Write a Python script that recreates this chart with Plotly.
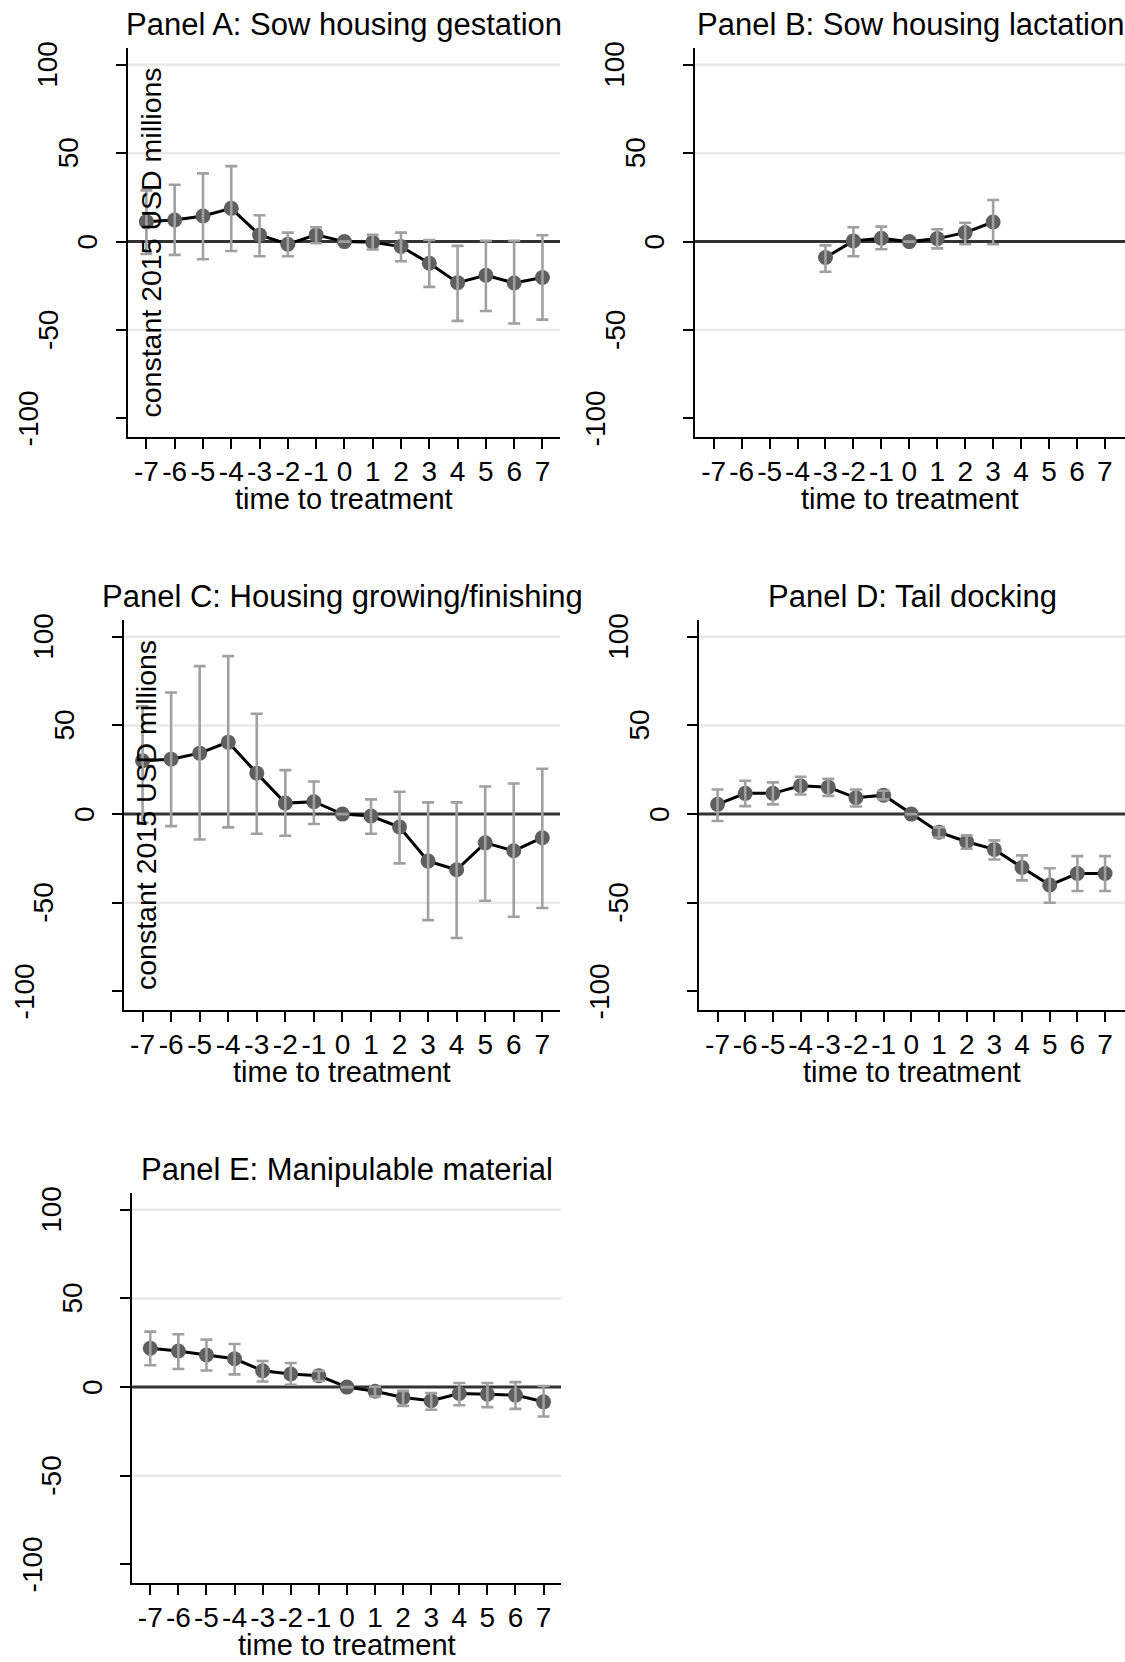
import plotly.graph_objects as go

# ---------------- data ----------------
periods = [-7, -6, -5, -4, -3, -2, -1, 0, 1, 2, 3, 4, 5, 6, 7]
periods_b = [-3, -2, -1, 0, 1, 2, 3]

titles = [
    "Panel A: Sow housing gestation",
    "Panel B: Sow housing lactation",
    "Panel C: Housing growing/finishing",
    "Panel D: Tail docking",
    "Panel E: Manipulable material",
]

coef_a = [11.3, 12.2, 14.5, 18.8, 3.8, -1.5, 3.8, 0, -0.4, -2.8, -12.2, -23.2, -19.0, -23.4, -20.3]
lo_a = [-7.0, -7.5, -10.0, -5.3, -8.3, -8.3, -0.9, 0, -4.5, -11.1, -25.6, -44.8, -39.2, -46.3, -44.1]
hi_a = [29.0, 32.2, 38.6, 42.7, 14.9, 5.1, 8.1, 0, 3.8, 5.1, 0.9, -2.4, 0.4, 0.4, 3.6]

coef_b = [-9.0, 0.4, 1.9, 0, 1.7, 5.1, 11.1]
lo_b = [-17.0, -8.3, -4.3, 0, -3.8, -1.5, -1.5]
hi_b = [-2.1, 8.1, 8.5, 0, 7.0, 10.7, 23.5]

coef_c = [30.1, 31.0, 34.4, 40.6, 23.1, 6.2, 7.0, 0, -1.1, -7.3, -26.5, -31.4, -16.2, -20.7, -13.3]
lo_c = [-4.9, -6.8, -14.3, -7.5, -11.1, -12.2, -5.6, 0, -11.1, -27.8, -59.8, -69.9, -48.9, -57.9, -53.0]
hi_c = [60.8, 68.6, 83.5, 89.1, 56.6, 24.8, 18.4, 0, 8.3, 12.6, 6.6, 6.6, 15.6, 17.3, 25.6]

coef_d = [5.5, 11.7, 11.7, 16.0, 15.2, 9.2, 10.7, 0, -10.2, -15.6, -19.9, -30.1, -40.0, -33.5, -33.5]
lo_d = [-3.9, 4.5, 5.5, 11.1, 10.3, 4.3, 8.3, 0, -13.2, -19.5, -25.6, -37.4, -50.0, -43.4, -43.4]
hi_d = [13.9, 18.8, 17.9, 21.1, 19.9, 13.9, 13.2, 0, -7.5, -12.0, -14.8, -23.3, -30.5, -23.7, -23.7]

coef_e = [21.9, 20.4, 18.1, 16.0, 9.2, 7.4, 6.4, 0, -2.3, -5.8, -7.7, -3.6, -4.0, -4.5, -8.3]
lo_e = [12.3, 10.2, 9.4, 7.2, 3.2, 1.3, 3.6, 0, -5.3, -10.6, -12.8, -10.2, -11.3, -12.3, -16.6]
hi_e = [31.3, 29.8, 26.8, 24.3, 14.7, 13.6, 9.1, 0, 0.2, -2.1, -3.4, 2.3, 2.3, 2.8, 0.6]

x_ticks = [-7, -6, -5, -4, -3, -2, -1, 0, 1, 2, 3, 4, 5, 6, 7]
y_ticks = [-100, -50, 0, 50, 100]
grid_vals = [100, 50, -50]

x_title = "time to treatment"
y_title = "constant 2015 USD millions"

panels = [
    (periods, coef_a, lo_a, hi_a),
    (periods_b, coef_b, lo_b, hi_b),
    (periods, coef_c, lo_c, hi_c),
    (periods, coef_d, lo_d, hi_d),
    (periods, coef_e, lo_e, hi_e),
]

# ---------------- layout geometry (pixels) ----------------
W, H = 1125, 1662
boxes = [  # left, right, top, bottom
    (128, 560, 48, 437),
    (695, 1125, 48, 437),
    (124, 560, 620, 1010),
    (699, 1125, 620, 1010),
    (132, 561, 1193, 1583),
]
show_ytitle = [True, False, True, False, False]

FONT = "Liberation Sans, Arial, sans-serif"
MARKER = "#5f5f5f"
ERR = "#a0a0a0"

fig = go.Figure()
layout = dict(
    width=W, height=H,
    margin=dict(l=0, r=0, t=0, b=0),
    paper_bgcolor="white", plot_bgcolor="white",
    showlegend=False,
    font=dict(family=FONT, color="black", size=28),
)
shapes = []
annotations = []

for i, ((xs, c, lo, hi), (l, r, t, b)) in enumerate(zip(panels, boxes)):
    n = i + 1
    xa = "x" if n == 1 else f"x{n}"
    ya = "y" if n == 1 else f"y{n}"
    xkey = "xaxis" if n == 1 else f"xaxis{n}"
    ykey = "yaxis" if n == 1 else f"yaxis{n}"
    xr = [-7.65, 7.62] if r < W else [-7.67, 7.72]

    fig.add_trace(go.Scatter(
        x=xs, y=c, mode="lines+markers", xaxis=xa, yaxis=ya,
        line=dict(color="black", width=3),
        marker=dict(color=MARKER, size=15, line=dict(width=0)),
        hoverinfo="skip",
    ))
    fig.add_trace(go.Scatter(
        x=xs, y=c, mode="markers", xaxis=xa, yaxis=ya,
        marker=dict(size=1, opacity=0),
        error_y=dict(
            type="data", symmetric=False,
            array=[h - v for h, v in zip(hi, c)],
            arrayminus=[v - q for v, q in zip(c, lo)],
            color=ERR, thickness=2.6, width=6,
        ),
        hoverinfo="skip",
    ))

    layout[xkey] = dict(
        domain=[l / W, r / W], anchor=ya,
        range=xr,
        tickmode="array", tickvals=x_ticks, ticktext=[str(v) for v in x_ticks],
        ticks="outside", ticklen=10, tickwidth=2, tickcolor="black",
        showline=True, linecolor="black", linewidth=2,
        showgrid=False, zeroline=False,
        tickfont=dict(size=28, family=FONT, color="black"),
        ticklabelstandoff=-2,
    )
    layout[ykey] = dict(
        domain=[1 - b / H, 1 - t / H], anchor=xa,
        range=[-110.5, 109.5],
        tickmode="array", tickvals=y_ticks, showticklabels=False,
        ticks="outside", ticklen=10, tickwidth=2, tickcolor="black",
        showline=True, linecolor="black", linewidth=2,
        showgrid=False, zeroline=False,
    )

    for g in grid_vals:
        shapes.append(dict(
            type="line", xref=f"{xa} domain", yref=ya, x0=0, x1=1, y0=g, y1=g,
            line=dict(color="#e8e8e8", width=2.5), layer="below",
        ))
    shapes.append(dict(
        type="line", xref=f"{xa} domain", yref=ya, x0=0, x1=1, y0=0, y1=0,
        line=dict(color="#333333", width=3), layer="below",
    ))

    # rotated y tick labels (Stata-style offsets that grow with label length)
    for v in y_ticks:
        lab = str(v)
        annotations.append(dict(
            text=lab, xref=f"{xa} domain", yref=ya, x=0, y=v,
            xshift=-(20 + 20 * len(lab)), textangle=-90,
            xanchor="center", yanchor="middle", showarrow=False,
            font=dict(size=28, family=FONT, color="black"),
        ))

    # panel title
    annotations.append(dict(
        text=titles[i], xref=f"{xa} domain", yref=f"{ya} domain", x=0.5, y=1,
        yshift=23.5, xanchor="center", yanchor="middle", showarrow=False,
        font=dict(size=31, family=FONT, color="black"),
    ))
    # x axis title
    annotations.append(dict(
        text=x_title, xref=f"{xa} domain", yref=f"{ya} domain", x=0.5, y=0,
        yshift=-62, xanchor="center", yanchor="middle", showarrow=False,
        font=dict(size=29, family=FONT, color="black"),
    ))
    if show_ytitle[i]:
        annotations.append(dict(
            text=y_title, xref=f"{xa} domain", yref=f"{ya} domain", x=0, y=0.5,
            xshift=22, textangle=-90, xanchor="center", yanchor="middle",
            showarrow=False, font=dict(size=28.5, family=FONT, color="black"),
        ))

layout["shapes"] = shapes
layout["annotations"] = annotations
fig.update_layout(**layout)
fig.write_html(
    "out.html",
    config={"displayModeBar": False},
    post_script="document.body.style.margin='0px';document.body.style.overflow='hidden';",
)
